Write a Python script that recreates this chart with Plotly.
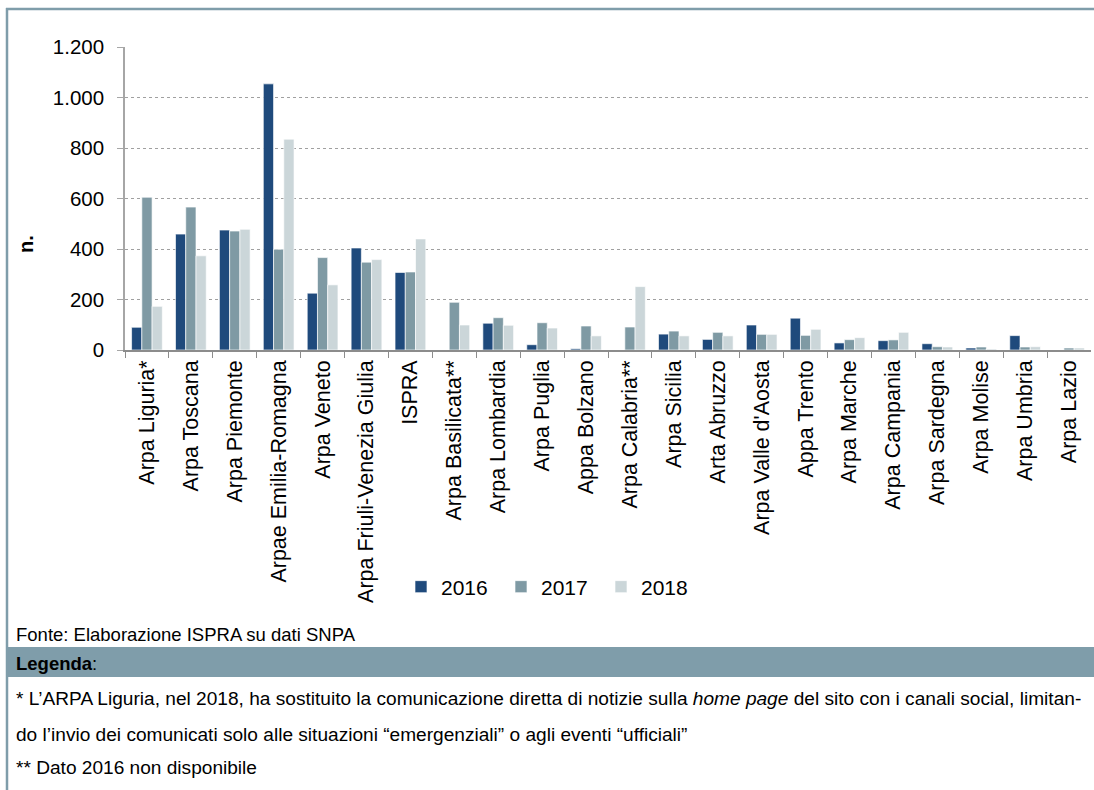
import plotly.graph_objects as go

categories = ["Arpa Liguria*", "Arpa Toscana", "Arpa Piemonte", "Arpae Emilia-Romagna", "Arpa Veneto",
              "Arpa Friuli-Venezia Giulia", "ISPRA", "Arpa Basilicata**", "Arpa Lombardia", "Arpa Puglia",
              "Appa Bolzano", "Arpa Calabria**", "Arpa Sicilia", "Arta Abruzzo", "Arpa Valle d'Aosta",
              "Appa Trento", "Arpa Marche", "Arpa Campania", "Arpa Sardegna", "Arpa Molise",
              "Arpa Umbria", "Arpa Lazio"]
v2016 = [90, 459, 475, 1054, 225, 404, 307, None, 106, 21, 5, None, 63, 42, 99, 126, 28, 37, 25, 8, 57, None]
v2017 = [605, 566, 471, 399, 366, 348, 309, 189, 128, 108, 95, 91, 75, 70, 62, 58, 41, 40, 13, 12, 12, 8]
v2018 = [173, 373, 478, 835, 258, 358, 440, 99, 98, 87, 56, 251, 56, 56, 62, 82, 49, 70, 12, 4, 13, 8]
years = ["2016", "2017", "2018"]
colors = ["#1F4A7C", "#7F9AA4", "#CBD6D9"]
ytick_vals = [0, 200, 400, 600, 800, 1000, 1200]
ytick_text = ["0", "200", "400", "600", "800", "1.000", "1.200"]

W, H = 1094, 790
def px(x):
    return x / W
def py(y):
    return 1 - y / H

fig = go.Figure()
for name, vals, col in zip(years, [v2016, v2017, v2018], colors):
    fig.add_trace(go.Bar(x=categories, y=vals, name=name, marker_color=col,
                         marker_line=dict(color="rgba(255,255,255,0.8)", width=0.8)))

FONT = "Liberation Sans, Arial, sans-serif"
fig.update_layout(
    width=W, height=H,
    margin=dict(l=0, r=0, t=0, b=0),
    paper_bgcolor="white", plot_bgcolor="white",
    barmode="group", bargap=0.3, bargroupgap=0,
    font=dict(family=FONT, color="#000000"),
    showlegend=True,
    legend=dict(orientation="h", x=px(401), y=py(587), xanchor="left", yanchor="middle",
                font=dict(size=21, family=FONT), entrywidth=55, entrywidthmode="pixels",
                bgcolor="rgba(0,0,0,0)", traceorder="normal"),
    xaxis=dict(domain=[px(125), px(1091)], tickangle=-90, tickfont=dict(size=21.5, family=FONT),
               showline=True, linecolor="#8C8C8C", linewidth=1.5, ticks="outside", tickson="boundaries",
               ticklen=6, tickcolor="#8C8C8C", showgrid=False, automargin=False, fixedrange=True),
    yaxis=dict(domain=[py(350), py(47)], range=[0, 1200], tickvals=ytick_vals, ticktext=ytick_text,
               tickfont=dict(size=20.5, family=FONT), showline=True, linecolor="#A6A6A6", linewidth=1.5,
               ticks="outside", ticklen=6, tickcolor="#A6A6A6", ticklabelstandoff=9,
               showgrid=True, gridcolor="#A0A0A0", griddash="dot", gridwidth=1, zeroline=False,
               automargin=False, fixedrange=True),
)

shapes = [
    dict(type="rect", xref="paper", yref="paper", x0=px(7), x1=1, y0=py(677), y1=py(647),
         fillcolor="#7F9DAA", line=dict(width=0), layer="below"),
    dict(type="line", xref="paper", yref="paper", x0=px(7), x1=px(7), y0=0, y1=py(8),
         line=dict(color="#7F9DAA", width=2.5)),
    dict(type="line", xref="paper", yref="paper", x0=px(6), x1=1, y0=py(9), y1=py(9),
         line=dict(color="#7F9DAA", width=2.5)),
]
fig.update_layout(shapes=shapes)

fig.add_annotation(text="<b>n.</b>", xref="paper", yref="paper", x=px(26), y=py(244), textangle=-90,
                   showarrow=False, xanchor="center", yanchor="middle", font=dict(family=FONT, size=20))

notes = [
    (634, "Fonte: Elaborazione ISPRA su dati SNPA", 18.5),
    (663, "<b>Legenda</b>:", 18.5),
    (698, "* L’ARPA Liguria, nel 2018, ha sostituito la comunicazione diretta di notizie sulla <i>home page</i> del sito con i canali social, limitan-", 19.1),
    (734, "do l’invio dei comunicati solo alle situazioni “emergenziali” o agli eventi “ufficiali”", 19.1),
    (767, "** Dato 2016 non disponibile", 19.1),
]
for y, t, s in notes:
    fig.add_annotation(text=t, xref="paper", yref="paper", x=px(14), y=py(y), xanchor="left",
                       yanchor="middle", showarrow=False, font=dict(family=FONT, size=s, color="#000000"),
                       align="left")

fig.write_html("out.html", config={"displayModeBar": False},
               post_script="document.body.style.margin='0px';document.body.style.overflow='hidden';")
